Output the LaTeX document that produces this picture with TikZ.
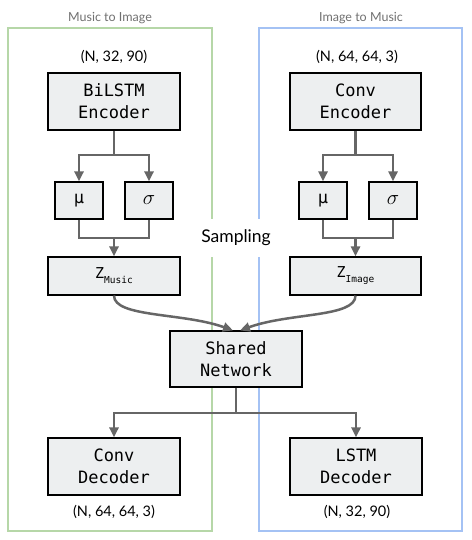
\documentclass[tikz,border=0pt]{standalone}
\usepackage{fontspec}
\setmainfont{Lato}
\setmonofont{DejaVu Sans Mono}
\usetikzlibrary{arrows.meta}
\definecolor{framegreen}{HTML}{B6D7A8}
\definecolor{frameblue}{HTML}{A4C2F4}
\definecolor{boxfill}{HTML}{EDEFF0}
\definecolor{linegray}{HTML}{666666}
\definecolor{titlegray}{HTML}{707070}
\newcommand{\zsub}[2]{{\fontsize{15}{15}\selectfont #1}\raisebox{-5pt}{\fontsize{9.5}{9.5}\selectfont #2}}
\tikzset{
	block/.style={draw=black, line width=1.1pt, fill=boxfill, align=center, inner sep=0pt,
		font=\ttfamily\fontsize{17}{22}\selectfont},
	dims/.style={font=\fontsize{14.5}{17}\selectfont},
	title/.style={font=\fontsize{12.5}{15}\selectfont, text=titlegray},
	pipe/.style={draw=linegray, line width=2.5pt},
	flow/.style={pipe, -{Triangle[length=10pt,width=9pt]}}
}

\begin{document}
\begin{tikzpicture}[x=1pt,y=-1pt]
	\useasboundingbox (0,0) rectangle (471,540);
	% frames
	\draw[framegreen, line width=2pt] (8,28) rectangle (212,531);
	\draw[frameblue, line width=2pt] (259,28) rectangle (462,531);
	\node[title] (ttlm) at (110,18) {Music to Image};
	\node[title] (ttli) at (361,18) {Image to Music};
	% music to image
	\node[dims] (inm) at (114,57) {(N, 32, 90)};
	\node[block, minimum width=132pt, minimum height=57pt] (bilstm) at (114,101.5) {BiLSTM\\Encoder};
	\node[block, minimum width=48pt, minimum height=37pt] (mum) at (79,200.5) {μ};
	\node[block, minimum width=48pt, minimum height=37pt] (sigm) at (149,200.5) {\fontsize{20}{20}\selectfont$\sigma$};
	\node[block, minimum width=132pt, minimum height=38pt] (zm) at (114,276) {\zsub{Z}{Music}};
	\coordinate (splitm) at (114,155);
	\coordinate (joinm) at (114,238);
	\draw[pipe] (bilstm) -- (splitm);
	\draw[flow] (splitm) -| (mum);
	\draw[flow] (splitm) -| (sigm);
	\draw[pipe] (mum.south) |- (joinm) -| (sigm.south);
	\draw[flow] (joinm) -- (zm);
	% image to music
	\node[dims] (ini) at (357,57) {(N, 64, 64, 3)};
	\node[block, minimum width=131pt, minimum height=57pt] (convenc) at (355.5,101.5) {Conv\\Encoder};
	\node[block, minimum width=48pt, minimum height=37pt] (mui) at (323,200.5) {μ};
	\node[block, minimum width=48pt, minimum height=37pt] (sigi) at (393,200.5) {\fontsize{20}{20}\selectfont$\sigma$};
	\node[block, minimum width=131pt, minimum height=38pt] (zi) at (355.5,276) {\zsub{Z}{Image}};
	\coordinate (spliti) at (355.5,155);
	\coordinate (joini) at (355.5,238);
	\draw[pipe] (convenc) -- (spliti);
	\draw[flow] (spliti) -| (mui);
	\draw[flow] (spliti) -| (sigi);
	\draw[pipe] (mui.south) |- (joini) -| (sigi.south);
	\draw[flow] (joini) -- (zi);
	% shared part
	\node[fill=white, font=\fontsize{17.5}{20}\selectfont, inner xsep=1pt, minimum height=38pt] (samp) at (236,238) {Sampling};
	\node[block, minimum width=132pt, minimum height=56pt] (shared) at (236,359) {Shared\\Network};
	\draw[flow] (zm.south) .. controls +(0,22) and +(-50,-18) .. ([xshift=-3pt]shared.north);
	\draw[flow] (zi.south) .. controls +(0,22) and +(50,-18) .. ([xshift=4pt]shared.north);
	\coordinate (splitd) at (236,413);
	\node[block, minimum width=132pt, minimum height=57pt] (convdec) at (114,466.5) {Conv\\Decoder};
	\node[block, minimum width=132pt, minimum height=57pt] (lstmdec) at (356,466.5) {LSTM\\Decoder};
	\draw[pipe] (shared) -- (splitd);
	\draw[flow] (splitd) -| (convdec);
	\draw[flow] (splitd) -| (lstmdec);
	\node[dims] (outm) at (114,512) {(N, 64, 64, 3)};
	\node[dims] (outi) at (357,512) {(N, 32, 90)};
\end{tikzpicture}
\end{document}
